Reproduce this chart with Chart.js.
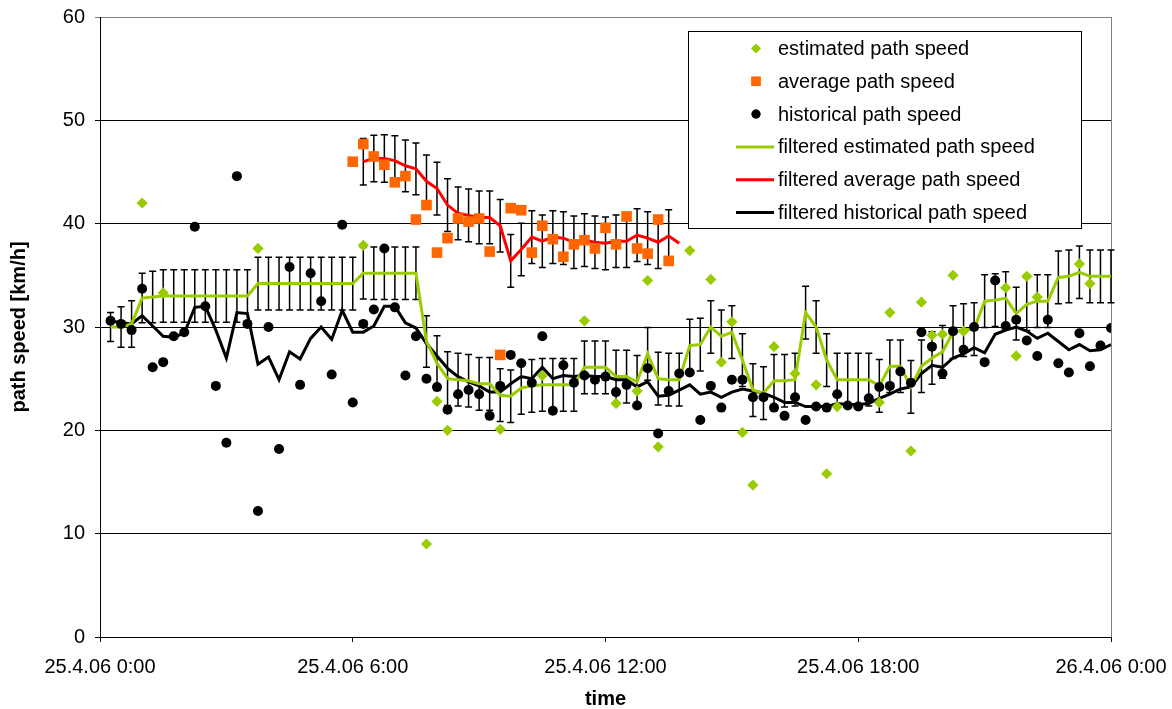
<!DOCTYPE html>
<html>
<head>
<meta charset="utf-8">
<title>path speed</title>
<script src="https://cdn.jsdelivr.net/npm/chart.js@4/dist/chart.umd.min.js"></script>
<style>
    html, body { margin: 0; padding: 0; background: #fff; }
    #speedChart { display: block; }
</style>
</head>
<body>
<canvas id="speedChart" width="1172" height="709"></canvas>
<script>
// x axis: quarter-hour slots, slot 0 = 25.4.06 0:00, slot 96 = 26.4.06 0:00
const X_TICK_LABELS = ['25.4.06 0:00', '25.4.06 6:00', '25.4.06 12:00', '25.4.06 18:00', '26.4.06 0:00'];
const X_TICK_SLOTS = [0, 24, 48, 72, 96];

// historical path speed (slots 1..96)
const HIST_START = 1;
const histSpeed = [
    30.6, 30.3, 29.7, 33.7, 26.1, 26.6, 29.1, 29.5, 39.7, 32.0,
    24.3, 18.8, 44.6, 30.3, 12.2, 30.0, 18.2, 35.8, 24.4, 35.2,
    32.5, 25.4, 39.9, 22.7, 30.3, 31.7, 37.6, 31.9, 25.3, 29.1,
    25.0, 24.2, 22.0, 23.5, 23.9, 23.5, 21.4, 24.3, 27.3, 26.5,
    24.6, 29.1, 21.9, 26.3, 24.6, 25.3, 24.9, 25.2, 23.7, 24.4,
    22.4, 26.0, 19.7, 23.8, 25.5, 25.6, 21.0, 24.3, 22.2, 24.9,
    24.9, 23.2, 23.2, 22.2, 21.4, 23.2, 21.0, 22.3, 22.2, 23.5,
    22.4, 22.3, 23.1, 24.2, 24.3, 25.7, 24.6, 29.5, 28.1, 25.5,
    29.6, 27.8, 30.0, 26.6, 34.5, 30.1, 30.7, 28.7, 27.2, 30.7,
    26.5, 25.6, 29.4, 26.2, 28.2, 29.9
];

// filtered historical path speed (slots 1..96)
const histFiltered = [
    30.6, 30.4, 30.3, 31.1, 30.1, 29.1, 29.0, 29.4, 31.9, 32.0,
    29.7, 27.0, 31.4, 31.3, 26.4, 27.1, 24.9, 27.6, 26.9, 28.9,
    30.0, 28.8, 31.6, 29.5, 29.5, 30.1, 32.0, 32.0, 30.4, 29.9,
    28.4, 27.2, 26.0, 25.2, 24.7, 24.3, 23.7, 23.7, 24.5, 25.2,
    25.0, 26.1, 25.0, 25.3, 25.2, 25.3, 25.2, 25.2, 24.9, 24.9,
    24.2, 24.7, 23.3, 23.4, 23.9, 24.4, 23.5, 23.7, 23.2, 23.7,
    24.0, 23.8, 23.6, 23.2, 22.7, 22.7, 22.3, 22.3, 22.3, 22.6,
    22.5, 22.5, 22.6, 23.1, 23.5, 24.0, 24.2, 25.5, 26.3, 26.1,
    27.0, 27.4, 28.0, 27.5, 29.3, 29.7, 30.0, 29.6, 28.9, 29.4,
    28.6, 27.8, 28.3, 27.7, 27.8, 28.3
];

// estimated path speed (only where a probe was measured)
const estSlots = [4, 6, 15, 25, 31, 32, 33, 38, 42, 46, 49, 51, 52, 53, 56, 58, 59, 60, 61, 62,
    64, 66, 68, 69, 70, 74, 75, 77, 78, 79, 80, 81, 82, 86, 87, 88, 89, 93, 94];
const estSpeed = [42.0, 33.3, 37.6, 37.9, 9.0, 22.8, 20.0, 20.1, 25.3, 30.6, 22.6, 23.8, 34.5, 18.4, 37.4, 34.6, 26.6, 30.5, 19.8, 14.7,
    28.1, 25.5, 24.4, 15.8, 22.3, 22.7, 31.4, 18.0, 32.4, 29.2, 29.3, 35.0, 29.6, 33.8, 27.2, 34.9, 32.9, 36.1, 34.2];

// filtered estimated path speed (slots 1..96)
const estFiltered = [
    30.0, 30.0, 30.3, 32.8, 32.9, 33.0, 33.0, 33.0, 33.0, 33.0,
    33.0, 33.0, 33.0, 33.0, 34.2, 34.2, 34.2, 34.2, 34.2, 34.2,
    34.2, 34.2, 34.2, 34.2, 35.2, 35.2, 35.2, 35.2, 35.2, 35.2,
    28.6, 26.5, 25.0, 24.9, 24.8, 24.5, 24.5, 23.4, 23.3, 24.1,
    24.3, 24.4, 24.4, 24.4, 24.4, 26.1, 26.1, 26.1, 25.2, 25.2,
    24.7, 27.4, 25.0, 24.9, 24.9, 28.2, 28.3, 30.0, 29.1, 29.5,
    26.8, 23.9, 23.6, 24.8, 24.8, 24.9, 31.4, 30.0, 26.8, 24.9,
    24.9, 24.9, 24.9, 24.3, 26.2, 26.2, 24.2, 26.2, 27.0, 27.6,
    29.5, 29.7, 29.8, 32.5, 32.6, 32.8, 31.3, 32.2, 32.5, 32.5,
    34.8, 34.9, 35.3, 34.9, 34.9, 34.9
];

// error of filtered estimated path speed (+/-)
const estError = [
    1.40, 1.95, 2.25, 2.40, 2.50, 2.55, 2.55, 2.55, 2.55, 2.55,
    2.55, 2.55, 2.55, 2.55, 2.55, 2.55, 2.55, 2.55, 2.55, 2.55,
    2.55, 2.55, 2.55, 2.55, 2.50, 2.55, 2.55, 2.55, 2.55, 2.55,
    2.50, 2.65, 2.60, 2.55, 2.55, 2.55, 2.55, 2.55, 2.55, 2.55,
    2.55, 2.55, 2.55, 2.55, 2.55, 2.55, 2.55, 2.55, 2.55, 2.55,
    2.55, 2.55, 2.55, 2.55, 2.55, 2.55, 2.55, 2.55, 2.55, 2.55,
    2.55, 2.55, 2.55, 2.55, 2.55, 2.55, 2.55, 2.55, 2.55, 2.55,
    2.55, 2.55, 2.55, 2.55, 2.55, 2.55, 2.55, 2.55, 2.55, 2.55,
    2.55, 2.55, 2.55, 2.55, 2.55, 2.55, 2.55, 2.55, 2.55, 2.55,
    2.55, 2.55, 2.55, 2.55, 2.55, 2.55
];

// average path speed (slots 24..54)
const AVG_START = 24;
const avgSpeed = [
    46.0, 47.7, 46.5, 45.7, 44.0, 44.6, 40.4, 41.8, 37.2, 38.6,
    40.5, 40.2, 40.5, 37.3, 27.3, 41.5, 41.3, 37.2, 39.8, 38.5,
    36.8, 38.0, 38.4, 37.6, 39.6, 38.0, 40.7, 37.6, 37.1, 40.4,
    36.4
];

// filtered average path speed (slots 25..55)
const AVG_FILTER_START = 25;
const avgFiltered = [
    46.0, 46.3, 46.3, 46.1, 45.6, 45.3, 44.1, 43.4, 41.8, 41.0,
    40.8, 40.6, 40.6, 39.8, 36.4, 37.5, 38.7, 38.3, 38.7, 38.6,
    38.2, 38.4, 38.2, 38.1, 38.3, 38.3, 38.9, 38.6, 38.2, 38.8,
    38.1
];
const avgError = [
    2.25, 2.25, 2.30, 2.40, 2.50, 2.50, 2.55, 2.55, 2.55, 2.55,
    2.55, 2.55, 2.55, 2.55, 2.55, 2.55, 2.55, 2.55, 2.55, 2.55,
    2.55, 2.55, 2.55, 2.55, 2.55, 2.55, 2.55, 2.55, 2.55, 2.55,
    null
];

const GREEN = '#99CC00';
const ORANGE = '#FF6600';
const RED = '#FF0000';
const BLACK = '#000000';
const FONT = "'Liberation Sans', Arial, sans-serif";

// turn a value array into {x, y} points starting at a slot
function toPoints(values, start) {
    return values.map((v, i) => ({ x: start + i, y: v }));
}

// error bars for datasets that carry an errorBars array
const errorBarPlugin = {
    id: 'errorBars',
    beforeDatasetsDraw(chart) {
        const { ctx, scales: { x, y }, chartArea } = chart;
        ctx.save();
        // right border of the plot area
        ctx.strokeStyle = '#808080';
        ctx.lineWidth = 1;
        ctx.beginPath();
        ctx.moveTo(chartArea.right + 0.5, chartArea.top);
        ctx.lineTo(chartArea.right + 0.5, chartArea.bottom);
        ctx.stroke();

        ctx.strokeStyle = BLACK;
        ctx.lineWidth = 1.5;
        chart.data.datasets.forEach(ds => {
            if (!ds.errorBars) return;
            ds.data.forEach((pt, i) => {
                const e = ds.errorBars[i];
                if (e == null) return;
                const px = x.getPixelForValue(pt.x);
                const top = y.getPixelForValue(pt.y + e);
                const bottom = y.getPixelForValue(pt.y - e);
                ctx.beginPath();
                ctx.moveTo(px, top);
                ctx.lineTo(px, bottom);
                ctx.moveTo(px - 3.5, top);
                ctx.lineTo(px + 3.5, top);
                ctx.moveTo(px - 3.5, bottom);
                ctx.lineTo(px + 3.5, bottom);
                ctx.stroke();
            });
        });
        ctx.restore();
    }
};

// boxed legend in the upper right, like the original sheet
const boxLegendPlugin = {
    id: 'boxLegend',
    afterDraw(chart) {
        const ctx = chart.ctx;
        const box = { left: 688.5, top: 31.5, right: 1081.5, bottom: 228.5 };
        ctx.save();
        ctx.fillStyle = '#fff';
        ctx.fillRect(box.left, box.top, box.right - box.left, box.bottom - box.top);
        ctx.strokeStyle = BLACK;
        ctx.lineWidth = 1;
        ctx.strokeRect(box.left, box.top, box.right - box.left, box.bottom - box.top);

        ctx.font = '20px ' + FONT;
        ctx.textBaseline = 'middle';
        ctx.textAlign = 'left';
        chart.data.datasets.forEach((ds, i) => {
            const cy = 48.5 + i * 32.8;
            if (ds.showLine) {
                ctx.strokeStyle = ds.borderColor;
                ctx.lineWidth = 3;
                ctx.beginPath();
                ctx.moveTo(736, cy);
                ctx.lineTo(774, cy);
                ctx.stroke();
            } else {
                ctx.fillStyle = ds.pointBackgroundColor;
                const r = ds.legendRadius;
                Chart.helpers.drawPoint(ctx, { pointStyle: ds.pointStyle, rotation: 0, borderWidth: 0, radius: r }, 756, cy);
                ctx.fill();
            }
            ctx.fillStyle = BLACK;
            ctx.fillText(ds.label, 778, cy + 1);
        });
        ctx.restore();
    }
};

const pointDefaults = { showLine: false, borderWidth: 0, pointBorderWidth: 0, order: 0 };
const lineDefaults = { showLine: true, borderWidth: 3, pointRadius: 0, tension: 0, fill: false, order: 1 };

const ctx = document.getElementById('speedChart').getContext('2d');
const speedChart = new Chart(ctx, {
    type: 'line',
    data: {
        datasets: [
            {
                ...pointDefaults,
                label: 'estimated path speed',
                data: estSlots.map((s, i) => ({ x: s, y: estSpeed[i] })),
                pointStyle: 'rectRot',
                pointRadius: 5.6,
                legendRadius: 4.8,
                pointBackgroundColor: GREEN,
                borderColor: GREEN
            },
            {
                ...pointDefaults,
                label: 'average path speed',
                data: toPoints(avgSpeed, AVG_START),
                pointStyle: 'rect',
                pointRadius: 7.5,
                legendRadius: 6.6,
                pointBackgroundColor: ORANGE,
                borderColor: ORANGE
            },
            {
                ...pointDefaults,
                label: 'historical path speed',
                data: toPoints(histSpeed, HIST_START),
                pointStyle: 'circle',
                pointRadius: 5,
                legendRadius: 4.5,
                pointBackgroundColor: BLACK,
                borderColor: BLACK
            },
            {
                ...lineDefaults,
                label: 'filtered estimated path speed',
                data: toPoints(estFiltered, HIST_START),
                errorBars: estError,
                borderColor: GREEN
            },
            {
                ...lineDefaults,
                label: 'filtered average path speed',
                data: toPoints(avgFiltered, AVG_FILTER_START),
                errorBars: avgError,
                borderColor: RED
            },
            {
                ...lineDefaults,
                label: 'filtered historical path speed',
                data: toPoints(histFiltered, HIST_START),
                borderColor: BLACK,
                borderWidth: 3
            }
        ]
    },
    options: {
        responsive: false,
        animation: false,
        devicePixelRatio: 1,
        events: [],
        layout: {
            padding: { left: 0, right: 61, top: 17, bottom: 0 }
        },
        plugins: {
            legend: { display: false },
            tooltip: { enabled: false }
        },
        scales: {
            x: {
                type: 'linear',
                min: 0,
                max: 96,
                afterFit: scale => {
                    scale.height = 72;
                    scale.paddingLeft = 0;
                    scale.paddingRight = 0;
                },
                afterBuildTicks: scale => { scale.ticks = X_TICK_SLOTS.map(v => ({ value: v })); },
                ticks: {
                    autoSkip: false,
                    maxRotation: 0,
                    padding: 13,
                    color: BLACK,
                    font: { family: FONT, size: 20 },
                    callback: value => X_TICK_LABELS[X_TICK_SLOTS.indexOf(value)]
                },
                grid: {
                    drawOnChartArea: false,
                    drawTicks: true,
                    tickLength: 5,
                    color: BLACK
                },
                border: { display: true, color: BLACK, width: 1 },
                title: {
                    display: true,
                    text: 'time',
                    color: BLACK,
                    font: { family: FONT, size: 20, weight: 'bold', lineHeight: 1 },
                    padding: { top: 0, bottom: 0 }
                }
            },
            y: {
                min: 0,
                max: 60,
                afterFit: scale => {
                    scale.width = 100;
                    scale.paddingTop = 0;
                    scale.paddingBottom = 0;
                },
                ticks: {
                    stepSize: 10,
                    padding: 10,
                    color: BLACK,
                    font: { family: FONT, size: 20 }
                },
                grid: {
                    drawTicks: true,
                    tickLength: 5,
                    lineWidth: 1,
                    color: c => (c.tick && c.tick.value === 60 ? '#808080' : BLACK)
                },
                border: { display: true, color: BLACK, width: 1 },
                title: {
                    display: true,
                    text: 'path speed [km/h]',
                    color: BLACK,
                    font: { family: FONT, size: 20, weight: 'bold', lineHeight: 1 },
                    padding: { top: 9, bottom: 0 }
                }
            }
        }
    },
    plugins: [errorBarPlugin, boxLegendPlugin]
});
</script>
</body>
</html>
